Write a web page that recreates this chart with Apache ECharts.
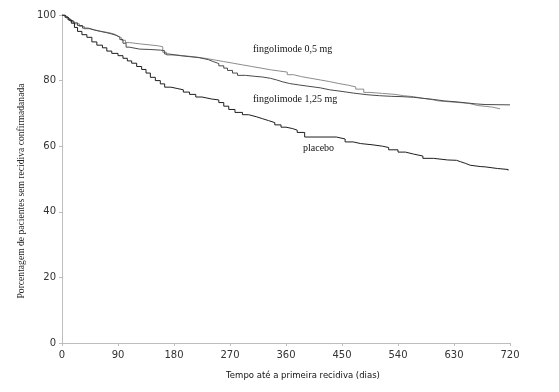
<!DOCTYPE html>
<html><head><meta charset="utf-8">
<script src="https://cdn.jsdelivr.net/npm/echarts@6/dist/echarts.min.js"></script>
<style>html,body{margin:0;padding:0;background:#fff}#c{width:559px;height:392px}</style>
</head><body><div id="c"></div>
<script>
const xTicks = [0, 90, 180, 270, 360, 450, 540, 630, 720];
const yTicks = [0, 20, 40, 60, 80, 100];
const xTitle = 'Tempo até a primeira recidiva (dias)';
const yTitle = 'Porcentagem de pacientes sem recidiva confirmadanada';
const seriesNames = ['placebo', 'fingolimode 0,5 mg', 'fingolimode 1,25 mg'];

const placebo = [[0,100],[5,99.3],[10,98.5],[15,97.5],[20,96.2],[25,95],[32,94],[40,93.2],[48,91.8],[56,90.8],[65,90],[72,89],[80,88.3],[90,87.6],[98,86.8],[105,86],[112,85.3],[120,84.3],[128,83.4],[135,82.3],[142,81],[150,80],[158,79],[165,78],[175,77.6],[185,77.2],[195,76.5],[205,75.8],[215,75],[225,74.4],[240,74.1],[252,73.3],[260,72.2],[268,71.2],[278,70.3],[290,69.6],[300,69],[312,68.4],[322,67.8],[332,67.2],[342,66.5],[352,65.8],[360,65.4],[370,64.9],[378,64.2],[390,62.8],[441,62.2],[455,61.3],[468,60.8],[480,60.4],[500,60.0],[515,59.6],[525,58.9],[540,58.2],[552,57.6],[565,57.0],[580,56.3],[597,55.8],[620,55.7],[634,55.3],[640,54.8],[648,54.2],[656,53.8],[672,53.7],[680,53.2],[700,52.9],[717,52.6]];

const fingo05 = [[0,100],[4,99.5],[8,98.8],[14,98],[20,97.3],[28,96.5],[36,95.8],[46,95.3],[56,94.9],[66,94.6],[76,94.2],[84,93.6],[90,93],[96,92.3],[102,91.6],[108,91.2],[125,90.9],[140,90.6],[155,90.3],[162,88.6],[168,87.8],[185,87.5],[200,87.2],[215,86.8],[230,86.3],[245,85.8],[260,85.3],[275,84.8],[290,84.3],[305,83.8],[320,83.3],[335,82.9],[350,82.6],[362,81.8],[372,81.2],[385,80.7],[400,80.2],[415,79.7],[430,79.1],[445,78.6],[460,78.1],[472,77.4],[485,76.4],[495,76.1],[515,75.8],[535,75.4],[549,75.1],[565,74.6],[580,74.2],[595,73.8],[605,73.5],[625,73.2],[645,73.0],[655,72.4],[668,72.1],[683,71.9],[692,71.4],[704,71.2]];

const fingo125 = [[0,100],[3,99.6],[7,99],[12,98.3],[18,97.6],[25,96.8],[33,96],[42,95.4],[52,95],[62,94.6],[72,94.2],[80,93.8],[87,93.2],[93,92.5],[98,91.4],[103,90.2],[108,89.6],[125,89.5],[140,89.3],[158,89.1],[165,88.1],[172,87.6],[190,87.3],[205,87],[220,86.4],[235,85.8],[243,85.2],[252,84.5],[260,83.8],[266,83.1],[274,82.3],[282,81.6],[295,81.3],[310,81.1],[322,80.7],[335,80.2],[345,79.6],[355,79.1],[366,78.7],[380,78.3],[395,77.8],[415,77.2],[430,76.7],[450,76.2],[468,75.7],[490,75.4],[510,75.2],[530,75.1],[548,74.9],[565,74.6],[580,74.3],[595,73.8],[615,73.5],[635,73.2],[650,72.9],[665,72.7],[680,72.6],[720,72.6]];

const chart = echarts.init(document.getElementById('c'), null, {renderer: 'canvas'});
const axisCol = '#bdbdbd';
const labelFont = {color: '#333', fontFamily: 'DejaVu Sans', fontSize: 10};
const serif = {fontFamily: 'Liberation Serif', fontSize: 10, fill: '#111'};
function mk(name, data, color) {
  return {name, type: 'line', data, step: 'end', symbol: 'none', silent: true,
    lineStyle: {color, width: 1}, animation: false};
}
chart.setOption({
  animation: false,
  grid: {left: 62, right: 49, top: 15, bottom: 49},
  xAxis: {type: 'value', min: 0, max: 720, interval: 90,
    axisLine: {lineStyle: {color: axisCol}}, axisTick: {show: true, length: 3, lineStyle: {color: axisCol}},
    splitLine: {show: false}, axisLabel: Object.assign({margin: 7}, labelFont),
    name: xTitle, nameLocation: 'middle', nameGap: 28,
    nameTextStyle: {color: '#111', fontFamily: 'DejaVu Sans', fontSize: 8.5, padding: [0, 0, 0, 34]}},
  yAxis: {type: 'value', min: 0, max: 100, interval: 20,
    axisLine: {show: true, lineStyle: {color: axisCol}}, axisTick: {show: true, length: 3, lineStyle: {color: axisCol}},
    splitLine: {show: false}, axisLabel: Object.assign({margin: 6}, labelFont),
    name: yTitle, nameLocation: 'middle', nameGap: 35,
    nameTextStyle: {color: '#222', fontFamily: 'Liberation Serif', fontSize: 9.6, padding: [0, 24, 0, 0]}},
  series: [mk(seriesNames[1], fingo05, '#8c8c8c'), mk(seriesNames[2], fingo125, '#4a4a4a'), mk(seriesNames[0], placebo, '#1e1e1e')],
  graphic: [
    {type: 'text', left: 253, top: 44, style: Object.assign({text: seriesNames[1]}, serif)},
    {type: 'text', left: 253, top: 94, style: Object.assign({text: seriesNames[2]}, serif)},
    {type: 'text', left: 303, top: 143, style: Object.assign({text: seriesNames[0]}, serif)}
  ]
});
</script></body></html>
